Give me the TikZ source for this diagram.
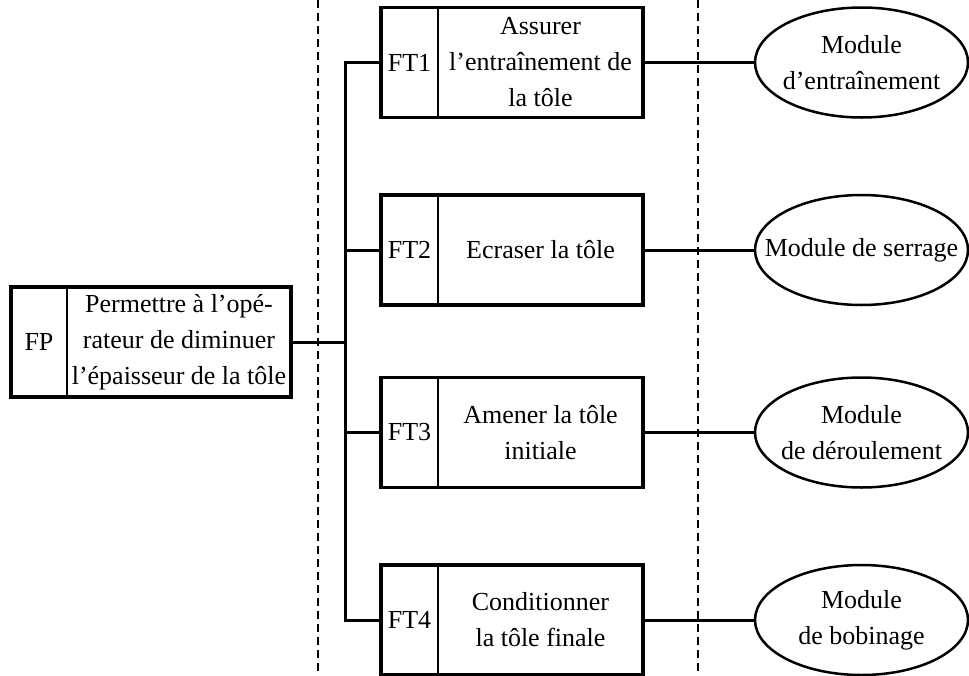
\documentclass[tikz,border=0pt]{standalone}
\usepackage{fontspec}
\setmainfont{Liberation Serif}
\usetikzlibrary{shapes,positioning}

\begin{document}
\begin{tikzpicture}[
    x=1pt, y=-1pt,
    every node/.style={align=center, font=\fontsize{26pt}{36pt}\selectfont},
    tag/.style={rectangle, draw, line width=1.5pt, minimum width=57pt, minimum height=110pt, inner sep=0pt, outer sep=0pt},
    func/.style={rectangle, draw, line width=1.5pt, minimum width=205pt, minimum height=110pt, inner sep=2pt, outer sep=0pt},
    module/.style={ellipse, draw, line width=2.5pt, minimum width=213pt, minimum height=110pt, inner ysep=0pt, inner xsep=-22pt},
    frame/.style={line width=3.5pt},
    link/.style={line width=3pt},
    limit/.style={line width=1.5pt, dash pattern=on 8pt off 5pt}
]
\useasboundingbox (0,0) rectangle (969,675);

% Frontier lines
\coordinate (lim_l) at (318,0);
\coordinate (lim_r) at (698,0);
\draw[limit] (lim_l) -- ++(0,675);
\draw[limit] (lim_r) -- ++(0,675);

% Main function
\node[tag, minimum width=56pt] (fp) at (39,342) {FP};
\node[func, minimum width=224pt, right=0pt of fp] (fp_txt) {Permettre à l'opé-\\rateur de diminuer\\l'épaisseur de la tôle};
\draw[frame] (fp.north west) rectangle (fp_txt.south east);

% Technical functions
\node[tag] (ft1) at (409.5,62.5) {FT1};
\node[func, right=0pt of ft1] (ft1_txt) {Assurer\\l'entraînement de\\la tôle};
\draw[frame] (ft1.north west) rectangle (ft1_txt.south east);

\node[tag] (ft2) at (409.5,250) {FT2};
\node[func, right=0pt of ft2] (ft2_txt) {Ecraser la tôle};
\draw[frame] (ft2.north west) rectangle (ft2_txt.south east);

\node[tag] (ft3) at (409.5,432.5) {FT3};
\node[func, right=0pt of ft3] (ft3_txt) {Amener la tôle\\initiale};
\draw[frame] (ft3.north west) rectangle (ft3_txt.south east);

\node[tag] (ft4) at (409.5,620) {FT4};
\node[func, right=0pt of ft4] (ft4_txt) {Conditionner\\la tôle finale};
\draw[frame] (ft4.north west) rectangle (ft4_txt.south east);

% Solutions
\node[module] (mod1) at (861.5,62.5) {Module\\d'entraînement};
\node[module] (mod2) at (861.5,250) {Module de serrage};
\node[module] (mod3) at (861.5,432.5) {Module\\de déroulement};
\node[module] (mod4) at (861.5,620) {Module\\de bobinage};

% Connections
\coordinate (bus) at (345,0);
\draw[link] (ft1.west) -| (bus |- fp_txt) |- (ft4.west);
\draw[link] (fp_txt.east) -- (bus |- fp_txt);
\draw[link] (bus |- ft2) -- (ft2.west);
\draw[link] (bus |- ft3) -- (ft3.west);
\draw[link] (ft1_txt.east) -- (mod1);
\draw[link] (ft2_txt.east) -- (mod2);
\draw[link] (ft3_txt.east) -- (mod3);
\draw[link] (ft4_txt.east) -- (mod4);

\end{tikzpicture}
\end{document}
